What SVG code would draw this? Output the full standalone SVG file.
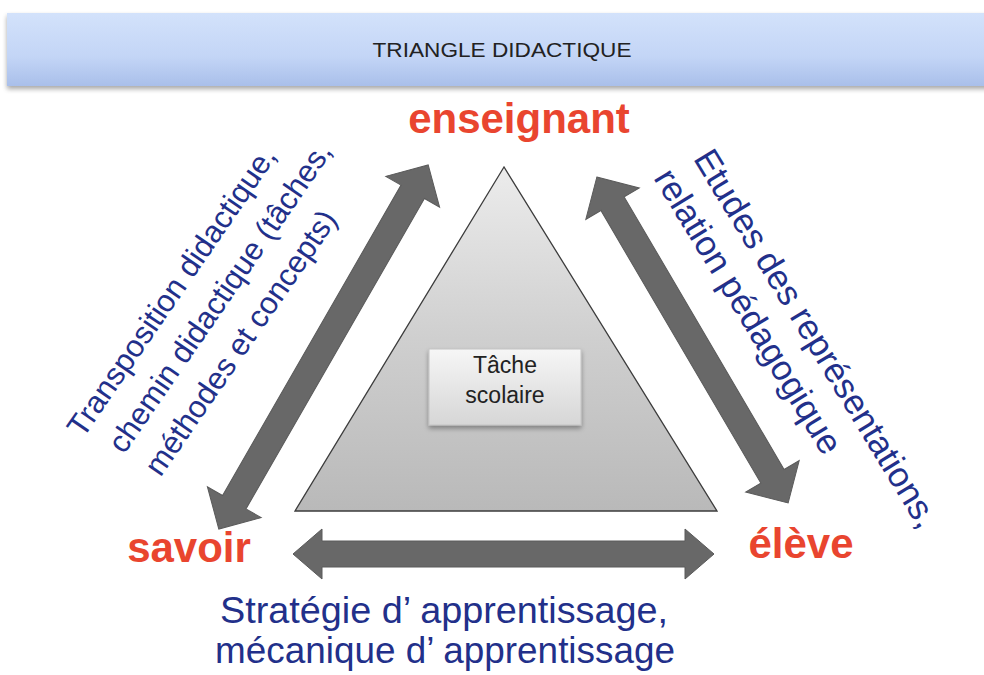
<svg xmlns="http://www.w3.org/2000/svg" width="984" height="675" viewBox="0 0 984 675">
<defs>
<linearGradient id="hdr" x1="0" y1="0" x2="0" y2="1">
<stop offset="0" stop-color="#d3e2fb"/><stop offset="0.6" stop-color="#c3d5f6"/><stop offset="1" stop-color="#a9bfea"/>
</linearGradient>
<linearGradient id="tri" x1="0" y1="0" x2="0" y2="1">
<stop offset="0" stop-color="#ececec"/><stop offset="0.5" stop-color="#cfcfcf"/><stop offset="1" stop-color="#b9b9b9"/>
</linearGradient>
<linearGradient id="box" x1="0" y1="0" x2="0" y2="1">
<stop offset="0" stop-color="#f6f6f6"/><stop offset="1" stop-color="#d6d6d6"/>
</linearGradient>
<filter id="sh" x="-10%" y="-10%" width="120%" height="140%">
<feGaussianBlur in="SourceAlpha" stdDeviation="2.5"/><feOffset dy="3" result="b"/>
<feComponentTransfer><feFuncA type="linear" slope="0.35"/></feComponentTransfer>
<feMerge><feMergeNode/><feMergeNode in="SourceGraphic"/></feMerge>
</filter>
</defs>
<style>
.red{font-family:"Liberation Sans",Arial,sans-serif;font-weight:bold;font-size:42px;fill:#e9452f}
.blue{font-family:"Liberation Sans",Arial,sans-serif;fill:#22308a}
.arrow{fill:#686868;stroke:#5a5a5a;stroke-width:1}
.small{font-family:"Liberation Sans",Arial,sans-serif;fill:#222}
</style>
<rect width="984" height="675" fill="#ffffff"/>
<g id="header">
<rect x="7" y="13" width="990" height="73" fill="url(#hdr)" filter="url(#sh)"/>
<text class="small" x="502" y="57" font-size="21" text-anchor="middle" textLength="259" lengthAdjust="spacingAndGlyphs">TRIANGLE DIDACTIQUE</text>
</g>
<g id="triangle">
<polygon points="504,167 295,511 717,511" fill="url(#tri)" stroke="#3c3c3c" stroke-width="1.3"/>
</g>
<g id="tache">
<rect x="429" y="349" width="152" height="76" fill="url(#box)" stroke="#c4c4c4" stroke-width="1" filter="url(#sh)"/>
<text class="small" x="505" y="373" font-size="23" text-anchor="middle">Tâche</text>
<text class="small" x="505" y="403" font-size="23" text-anchor="middle">scolaire</text>
</g>
<g id="enseignant"><text class="red" x="519" y="133" text-anchor="middle">enseignant</text></g>
<g id="savoir"><text class="red" x="189" y="562" text-anchor="middle">savoir</text></g>
<g id="eleve"><text class="red" x="801" y="558" text-anchor="middle">élève</text></g>
<g id="connectors">
<polygon class="arrow" transform="translate(323.5,347) rotate(-60.1)" points="-210,0 -179,-31 -179,-13.5 179,-13.5 179,-31 210,0 179,31 179,13.5 -179,13.5 -179,31"/>
<polygon class="arrow" transform="translate(692.5,340) rotate(59.6)" points="-189,0 -158,-31 -158,-13.5 158,-13.5 158,-31 189,0 158,31 158,13.5 -158,13.5 -158,31"/>
<polygon class="arrow" transform="translate(503.5,554)" points="-210.5,0 -181.5,-25 -181.5,-13 181.5,-13 181.5,-25 210.5,0 181.5,25 181.5,13 -181.5,13 -181.5,25"/>
</g>
<g id="label-left" transform="translate(124,455) rotate(-55.5)">
<text class="blue" font-size="31" x="-10" y="-43">Transposition didactique,</text>
<text class="blue" font-size="31" x="0" y="0">chemin didactique (tâches,</text>
<text class="blue" font-size="31" x="2" y="43">méthodes et concepts)</text>
</g>
<g id="label-right" transform="translate(653,178) rotate(58.6)">
<text class="blue" font-size="35" x="4" y="-44">Etudes des représentations,</text>
<text class="blue" font-size="35" x="0" y="0">relation pédagogique</text>
</g>
<g id="label-bottom">
<text class="blue" x="444" y="623" font-size="36" text-anchor="middle" textLength="448" lengthAdjust="spacingAndGlyphs" fill="#1f2a6e">Stratégie d’ apprentissage,</text>
<text class="blue" x="445" y="663" font-size="36" text-anchor="middle" textLength="460" lengthAdjust="spacingAndGlyphs" fill="#1f2a6e">mécanique d’ apprentissage</text>
</g>
</svg>
